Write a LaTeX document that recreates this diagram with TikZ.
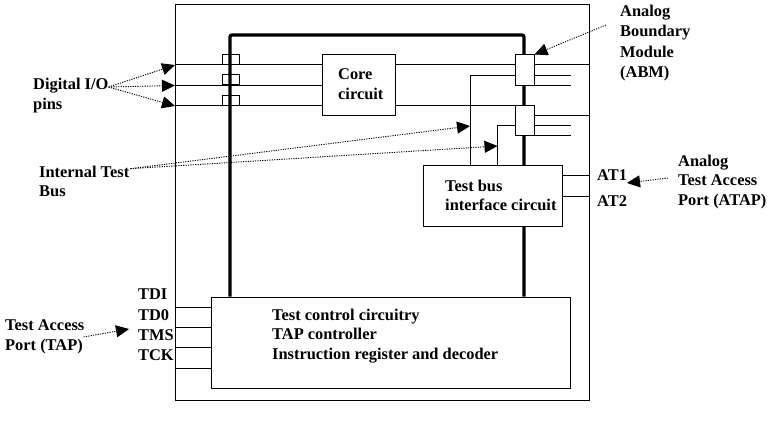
\documentclass[tikz,border=0pt]{standalone}
\usepackage{fontspec}
\setmainfont{Liberation Serif}
\usetikzlibrary{arrows.meta,positioning}
\tikzset{
  box/.style={draw,fill=white,line width=1pt,inner sep=0pt},
  wire/.style={line width=1pt},
  lbl/.style={anchor=west,align=left,inner sep=0pt,font=\fontsize{16.4}{19.7}\selectfont\bfseries},
  callout/.style={line width=0.9pt,dash pattern=on 1.2pt off 1.2pt,-{Triangle[length=13pt,width=12pt]}}
}
\begin{document}
\begin{tikzpicture}[x=1pt,y=-1pt]
  \useasboundingbox (0,0) rectangle (768,430);
  \node[box,minimum width=414pt,minimum height=395pt] (chip) at (382,202.5) {};
  \node[box,minimum width=359pt,minimum height=91pt] (control) at (390.5,342.5) {};
  % thick bus
  \coordinate (busl) at (230,35);
  \coordinate (busr) at (524,35);
  \draw[line width=3.2pt,rounded corners=2pt] (control.north -| busl) -- (busl) -- (busr) -- (control.north -| busr);
  % pins and bridges
  \foreach \n/\y in {a/65,b/85.5,c/106} {
    \coordinate (pin\n) at (175,\y);
    \node[draw,line width=1pt,inner sep=0pt,minimum width=17pt,minimum height=10pt,anchor=south] (hop\n) at (230.5,\y) {};
  }
  \node[box,minimum width=73pt,minimum height=61pt] (core) at (358.5,85.5) {};
  \node[box,minimum width=19pt,minimum height=31pt] (abma) at (524.5,70.5) {};
  \node[box,minimum width=19pt,minimum height=30pt] (abmb) at (524.5,121) {};
  \node[box,minimum width=139pt,minimum height=61pt] (tbic) at (492.5,196.5) {};
  \foreach \n in {a,b,c} {\draw[wire] (pin\n) -- (core.west |- pin\n);}
  \draw[wire] (core.east |- pina) -- (abma.west |- pina);
  \draw[wire] (core.east |- pinc) -- (abmb.west |- pinc);
  % test bus
  \coordinate (tapa) at (470,76);
  \coordinate (tapb) at (497.5,126);
  \draw[wire] (abma.west |- tapa) -- (tapa) -- (tapa |- tbic.north);
  \draw[wire] (abmb.west |- tapb) -- (tapb) -- (tapb |- tbic.north);
  % stubs on the right
  \draw[wire] (abma.east |- pina) -- (chip.east |- pina);
  \coordinate (stuba) at (571,76);
  \coordinate (stubb) at (571,86);
  \coordinate (stubc) at (571,126);
  \coordinate (stubd) at (571,136);
  \draw[wire] (abma.east |- stuba) -- (stuba);
  \draw[wire] (abma.east |- stubb) -- (stubb);
  \draw[wire] (abmb.east |- 0,116) -- (chip.east |- 0,116);
  \draw[wire] (abmb.east |- stubc) -- (stubc);
  \draw[wire] (abmb.east |- stubd) -- (stubd);
  \foreach \y in {176,197} {\draw[wire] (tbic.east |- 0,\y) -- (chip.east |- 0,\y);}
  \foreach \y in {307,327.5,347.5,368} {\draw[wire] (chip.west |- 0,\y) -- (control.west |- 0,\y);}
  % labels
  \node[lbl] (corelbl) at (338,84.5) {Core\\circuit};
  \node[lbl] (tbiclbl) at (445,195.5) {Test bus\\interface circuit};
  \node[lbl] (ctrllbl) at (272,336) {Test control circuitry\\TAP controller\\Instruction register and decoder};
  \node[lbl] (pinslbl) at (33,95.5) {Digital I/O\\pins};
  \node[lbl] (abmlbl) at (620,43) {Analog\\[0.6pt]Boundary\\[0.6pt]Module\\[0.6pt](ABM)};
  \node[lbl] (buslbl) at (39,181.5) {Internal Test\\Bus};
  \node[lbl] (at1) at (597,175) {AT1};
  \node[lbl] (at2) at (597,201) {AT2};
  \node[lbl] (ataplbl) at (678,182) {Analog\\Test Access\\Port (ATAP)};
  \node[lbl] (taplbl) at (5,337) {Test Access\\Port (TAP)};
  \node[lbl] (tdi) at (138,294) {TDI};
  \node[lbl] (tdo) at (138,315) {TD0};
  \node[lbl] (tms) at (138,335) {TMS};
  \node[lbl] (tck) at (138,355) {TCK};
  % callouts
  \foreach \n in {a,b,c} {\draw[callout] (pinslbl.north east) ++(0,9) -- (pin\n);}
  \draw[callout] (abmlbl.west) ++(-14,-18) -- (abma.north east);
  \coordinate (busa) at (470,126);
  \coordinate (busb) at (497.5,146);
  \draw[callout] (buslbl.north east) ++(1,3) -- (busa);
  \draw[callout] (buslbl.north east) ++(1,3) -- (busb);
  \coordinate (atport) at (627,183);
  \draw[callout] (ataplbl.west) ++(-10,-4) -- (atport);
  \coordinate (tapport) at (129,329);
  \draw[callout] (taplbl.east) ++(-1,0) -- (tapport);
\end{tikzpicture}
\end{document}
